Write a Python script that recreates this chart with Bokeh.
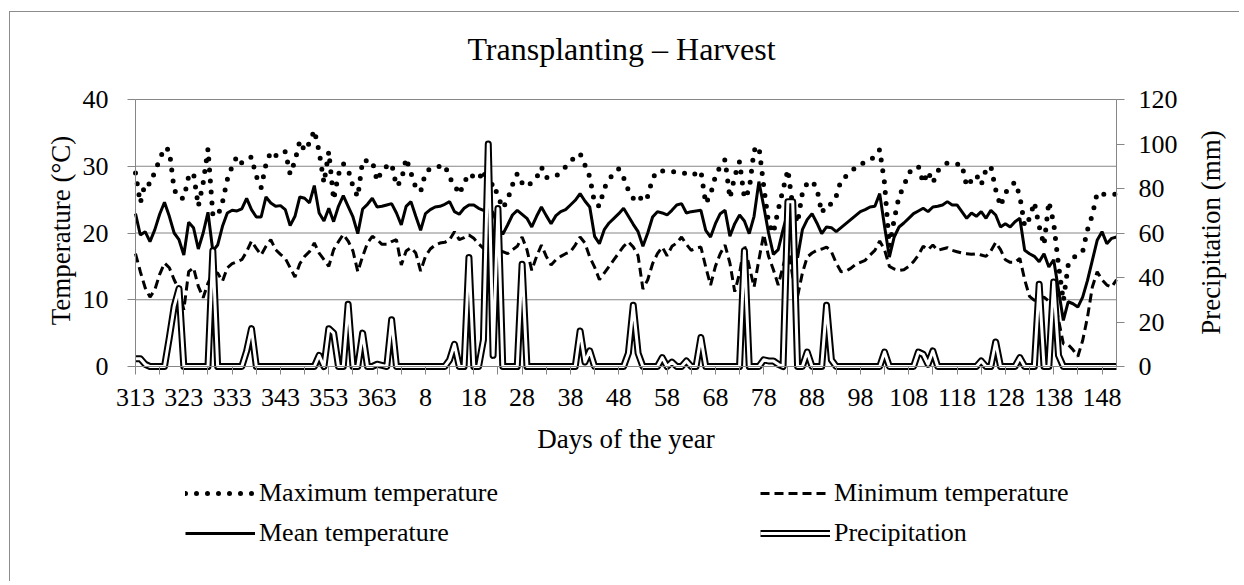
import math
from bokeh.plotting import figure
from bokeh.models import (Range1d, LinearAxis, FixedTicker, Legend, LegendItem, Label)
from bokeh.embed import file_html
from bokeh.resources import INLINE

# ---------------- data ----------------
days = list(range(313, 366)) + list(range(1, 152))

tmax = [29.0, 24.5, 27.5, 27.3, 29.2, 31.0, 32.8, 32.4, 26.5, 25.2,
        25.2, 28.5, 29.0, 24.0, 27.5, 32.6, 22.8, 22.5, 24.6, 28.0,
        30.0, 31.5, 30.5, 31.0, 31.4, 28.5, 26.8, 30.3, 32.2, 31.6,
        31.5, 32.2, 28.8, 30.8, 33.8, 32.3, 33.5, 35.4, 32.2, 27.5,
        32.2, 25.0, 28.8, 30.4, 29.5, 27.0, 25.4, 30.9, 30.8, 30.8,
        27.8, 29.4, 30.0, 30.4, 27.0, 27.8, 31.2, 29.0, 26.8, 26.2,
        29.0, 29.7, 29.8, 30.0, 30.2, 28.3, 27.2, 25.8, 27.5, 28.9,
        28.4, 28.0, 29.4, 26.5, 27.5, 25.5, 23.7, 25.0, 27.2, 28.9,
        27.5, 26.9, 27.6, 28.3, 29.9, 28.3, 28.4, 28.5, 29.2, 29.9,
        30.8, 31.3, 31.9, 30.2, 28.4, 24.5, 24.0, 26.7, 28.0, 29.0,
        29.6, 28.3, 26.4, 25.2, 25.8, 24.7, 25.5, 28.2, 29.3, 29.3,
        29.2, 29.2, 29.1, 29.0, 28.9, 28.6, 28.9, 29.3, 24.4, 25.8,
        28.5, 30.0, 31.0, 25.2, 28.5, 30.7, 25.2, 26.5, 32.4, 33.0,
        27.0, 21.5, 20.0, 23.5, 26.5, 29.5, 24.0, 21.5, 26.0, 27.5,
        27.8, 26.7, 23.0, 24.3, 24.3, 25.5, 27.9, 28.5, 29.2, 29.8,
        30.4, 30.5, 31.0, 31.4, 32.5, 27.5, 18.0, 22.0, 25.5, 27.0,
        29.0, 29.6, 30.0, 27.5, 29.2, 27.5, 29.3, 30.0, 30.5, 30.4,
        30.3, 30.3, 27.0, 27.9, 28.7, 27.2, 29.5, 30.0, 26.5, 24.0,
        26.0, 27.0, 27.6, 25.5, 21.0, 22.2, 24.6, 21.0, 18.2, 24.7,
        21.5, 15.2, 9.8, 15.2, 16.2, 16.9, 17.2, 20.5, 22.7, 26.0,
        25.8, 25.8, 25.8, 25.8]

tmin = [16.9, 14.2, 11.8, 10.4, 11.5, 13.8, 15.5, 14.8, 13.0, 11.5,
        8.5, 14.2, 14.8, 12.0, 10.3, 12.5, 14.0, 14.0, 12.8, 14.8,
        15.4, 15.7, 16.0, 17.2, 18.8, 17.7, 16.7, 18.0, 19.0, 17.5,
        16.8, 16.2, 14.8, 13.4, 15.4, 16.5, 17.2, 18.5, 17.0, 16.0,
        15.0, 17.5, 18.7, 19.8, 18.8, 17.3, 14.2, 16.5, 18.5, 19.5,
        19.0, 18.3, 18.3, 18.7, 19.0, 15.2, 17.3, 17.8, 17.0, 14.3,
        16.5, 17.6, 18.2, 18.5, 18.6, 19.0, 20.2, 19.0, 19.3, 19.7,
        19.2, 18.4, 17.7, 18.5, 18.0, 17.5, 17.2, 16.9, 17.5, 18.0,
        19.4, 17.5, 14.4, 16.5, 18.2, 16.5, 15.2, 16.0, 16.5, 16.9,
        17.2, 18.2, 19.4, 18.5, 16.4, 14.9, 13.0, 14.0, 15.0, 16.0,
        17.0, 18.0, 18.7, 17.9, 16.6, 11.6, 13.0, 15.4, 16.9, 17.9,
        16.6, 18.0, 18.5, 19.4, 18.3, 17.4, 17.7, 17.9, 14.9, 12.2,
        15.0, 16.9, 18.2, 15.5, 11.2, 14.0, 18.2, 15.0, 11.9, 16.0,
        19.8, 16.5, 14.5, 12.2, 15.0, 17.9, 13.5, 10.5, 14.0, 16.4,
        17.0, 17.4, 17.6, 17.9, 17.2, 15.5, 14.2, 14.3, 14.7, 15.3,
        15.6, 15.9, 16.7, 17.4, 18.8, 17.5, 15.0, 14.6, 14.4, 14.5,
        15.0, 15.7, 16.7, 18.0, 17.5, 18.2, 17.4, 17.6, 17.8, 17.4,
        17.2, 17.0, 16.9, 16.8, 16.9, 16.7, 16.5, 17.3, 18.6, 17.5,
        16.0, 15.6, 15.6, 16.2, 13.0, 10.5, 9.9, 10.2, 10.4, 9.8,
        10.4, 7.0, 3.4, 3.3, 2.5, 1.5, 3.9, 7.4, 11.9, 14.2,
        13.0, 12.2, 11.9, 13.0]

tmean = [22.9, 19.7, 20.2, 18.7, 20.5, 22.8, 24.6, 22.5, 20.0, 19.0,
         16.7, 21.6, 20.8, 17.6, 20.0, 23.1, 17.3, 18.2, 21.0, 23.0,
         23.4, 23.3, 23.6, 25.2, 23.5, 22.4, 22.4, 25.4, 24.5, 24.0,
         24.1, 23.5, 21.1, 22.5, 25.4, 25.2, 24.5, 27.1, 23.0, 21.8,
         23.7, 21.7, 24.0, 25.6, 24.0, 22.4, 19.9, 23.6, 24.3, 25.2,
         23.9, 24.0, 24.2, 24.4, 23.0, 21.2, 24.0, 24.7, 22.5, 20.4,
         22.9, 23.5, 23.9, 24.0, 24.3, 24.7, 23.2, 22.8, 23.7, 24.2,
         24.2, 23.7, 23.4, 24.0, 23.0, 21.0, 19.8, 21.2, 22.7, 23.4,
         22.8, 22.2, 20.9, 22.5, 23.9, 22.6, 21.4, 22.6, 23.2, 23.5,
         24.2, 24.9, 25.9, 24.8, 23.9, 19.5, 18.4, 20.5, 21.5, 22.2,
         22.9, 23.7, 22.5, 21.3, 20.2, 18.0, 20.0, 22.4, 23.2, 23.0,
         22.7, 23.4, 24.2, 24.4, 23.0, 23.2, 23.3, 23.4, 20.4, 19.4,
         21.4, 22.9, 23.4, 19.5, 21.4, 22.7, 21.8, 19.9, 22.5, 27.7,
         24.0, 20.0, 16.8, 17.5, 20.5, 23.2, 20.0, 16.3, 20.5, 22.0,
         22.9, 21.5, 19.9, 20.9, 20.8, 20.2, 20.8, 21.4, 22.0, 22.6,
         23.2, 23.5, 23.9, 24.0, 25.9, 21.0, 16.4, 19.4, 20.9, 21.5,
         22.2, 22.9, 23.3, 23.7, 23.2, 23.9, 24.0, 24.2, 24.7, 24.2,
         24.2, 23.2, 22.2, 23.0, 22.5, 23.2, 22.2, 23.4, 22.7, 20.9,
         21.4, 20.9, 21.7, 22.2, 17.4, 16.9, 16.5, 15.7, 16.9, 14.9,
         16.0, 11.5, 6.9, 9.7, 9.4, 8.9, 10.4, 12.9, 15.9, 18.9,
         20.2, 18.4, 19.2, 19.4]

precip = [3.5, 3.5, 1, 0, 0, 0, 0, 13, 27, 35,
          0, 0, 0, 0, 0, 0, 52, 0, 0, 0,
          0, 0, 0, 7, 17, 0, 0, 0, 0, 0,
          0, 0, 0, 0, 0, 0, 0, 0, 5, 0,
          17, 15, 0, 0, 28, 0, 0, 15, 0, 0,
          1, 0.5, 0, 21, 0, 0, 0, 0, 0, 0,
          0, 0, 0, 0, 0, 3, 10, 0, 0, 49,
          0, 0, 12, 100, 5, 71, 0, 0, 0, 0,
          46, 0, 0, 0, 0, 0, 0, 0, 0, 0,
          0, 0, 16, 2, 7, 0, 0, 0, 0, 0,
          0, 0, 6, 27.5, 6, 0, 0, 0, 0, 4,
          0, 2, 0, 0, 2.5, 0, 0, 13, 0, 0,
          0, 0, 0, 0, 0, 0, 52, 0, 0, 0,
          3, 2.5, 2.5, 1, 0, 74, 74, 0, 0, 6.5,
          0, 0, 0, 27.5, 3, 0, 0, 0, 0, 0,
          0, 0, 0, 0, 0, 6.5, 0, 0, 0, 0,
          0, 0, 6.5, 5.5, 1, 7, 0, 0, 0, 0,
          0, 0, 0, 0, 0, 2.5, 0, 0, 11, 0,
          0, 0, 0, 4, 0, 0, 0, 37, 0, 0,
          38, 5, 0, 0, 0, 0, 0, 0, 0, 0,
          0, 0, 0, 0]

temp_ticks = [0, 10, 20, 30, 40]
precip_ticks = [0, 20, 40, 60, 80, 100, 120]

x = list(range(len(days)))
n_last = len(days) - 1

# ---------------- geometry (page pixels) ----------------
FONT = "Liberation Serif"
FS = "26px"
FS_AXIS_TITLE = "27px"
FS_TITLE = "32px"
GRAY = "#868686"

OX, OY = 10, 12            # page position of the figure (after its css margin + border)
W, H = 1230, 570
PX0, PX1 = 135, 1116       # page x of first / last day
PY40, PY0 = 99, 366        # page y of 40 degC / 0 degC

sx = (PX1 - PX0) / n_last
sy = (PY0 - PY40) / 40.0
def xd(px):                # page x -> data x
    return (px - PX0) / sx
def yd(py):                # page y -> temperature
    return (PY0 - py) / sy

x_lo, x_hi = xd(OX), xd(OX + W)
y_lo, y_hi = yd(OY + H), yd(OY)

p = figure(width=W, height=H, output_backend="svg", toolbar_location=None,
           x_range=Range1d(x_lo, x_hi), y_range=Range1d(y_lo, y_hi),
           min_border=0, min_border_left=0, min_border_right=0,
           min_border_top=0, min_border_bottom=0,
           background_fill_color="white", border_fill_color="white",
           outline_line_color=None)
p.title.visible = False
p.styles = {"margin-left": "9px", "margin-top": "11px",
            "border-left": "1px solid #8c8c8c",
            "border-top": "1px solid #8c8c8c"}
p.extra_y_ranges = {"precip": Range1d(y_lo * 3, y_hi * 3)}

# x axis at 0 degC
xa = p.xaxis[0]
xa.fixed_location = 0
xa.bounds = (0, n_last)
xa.ticker = FixedTicker(ticks=list(range(0, len(days), 5)))
xa.major_label_overrides = {i: (str(days[i]) if i % 10 == 0 else "")
                            for i in range(0, len(days), 5)}
xa.axis_label = "Days of the year"
xa.major_label_standoff = 14
xa.axis_label_standoff = 15

# left axis at the first day
ya = p.yaxis[0]
ya.fixed_location = 0
ya.bounds = (0, 40)
ya.ticker = FixedTicker(ticks=temp_ticks)
ya.major_label_standoff = 19

# right axis at the last day
ra = LinearAxis(y_range_name="precip", ticker=FixedTicker(ticks=precip_ticks),
                bounds=(0, 120), fixed_location=n_last)
p.add_layout(ra, "right")
ra.major_label_standoff = 14

for ax in (xa, ya, ra):
    ax.axis_line_color = GRAY
    ax.major_tick_line_color = GRAY
    ax.major_tick_out = 8
    ax.major_tick_in = 0
    ax.minor_tick_line_color = None
    ax.major_label_text_font = FONT
    ax.major_label_text_font_size = FS
    ax.major_label_text_color = "black"
    ax.axis_label_text_font = FONT
    ax.axis_label_text_font_size = FS_AXIS_TITLE
    ax.axis_label_text_font_style = "normal"
    ax.axis_label_text_color = "black"

p.xgrid.visible = False
p.ygrid.visible = False
# horizontal gridlines, limited to the plotting area
p.segment(x0=[x[0]] * 4, x1=[x[-1]] * 4, y0=temp_ticks[1:], y1=temp_ticks[1:],
          line_color=GRAY, line_width=1)

# texts
def add_text(txt, px, py, size, angle=0.0):
    p.add_layout(Label(x=xd(px), y=yd(py), text=txt, angle=angle,
                       text_align="center", text_baseline="middle",
                       text_font=FONT, text_font_size=size, text_color="black"))

add_text("Transplanting \u2013 Harvest", 621, 48, FS_TITLE)
add_text("Temperature (\u00b0C)", 60, 230, FS_AXIS_TITLE, math.pi / 2)
add_text("Precipitation (mm)", 1210, 232, FS_AXIS_TITLE, math.pi / 2)

# ---------------- series ----------------
r_max = p.line(x, tmax, line_color="black", line_width=5, line_dash="0 11",
               line_cap="round")
r_min = p.line(x, tmin, line_color="black", line_width=3, line_dash="9 5")
r_mean = p.line(x, tmean, line_color="black", line_width=3)
r_p1 = p.line(x, precip, y_range_name="precip", line_color="black",
              line_width=7, line_join="round")
r_p2 = p.line(x, precip, y_range_name="precip", line_color="white",
              line_width=3, line_join="round")

legend = Legend(items=[
    LegendItem(label="Maximum temperature", renderers=[r_max]),
    LegendItem(label="Minimum temperature", renderers=[r_min]),
    LegendItem(label="Mean temperature", renderers=[r_mean]),
    LegendItem(label="Precipitation", renderers=[r_p1, r_p2]),
], location=(185 - OX, OY + H - 548), orientation="horizontal", ncols=2)
legend.label_text_font = FONT
legend.label_text_font_size = FS
legend.label_text_color = "black"
legend.glyph_width = 70
legend.glyph_height = 20
legend.label_standoff = 4
legend.label_width = 491
legend.label_height = 30
legend.spacing = 10
legend.padding = 0
legend.margin = 0
legend.border_line_alpha = 0
legend.background_fill_alpha = 0
p.add_layout(legend, "center")

open("out.html", "w").write(file_html(p, INLINE))
